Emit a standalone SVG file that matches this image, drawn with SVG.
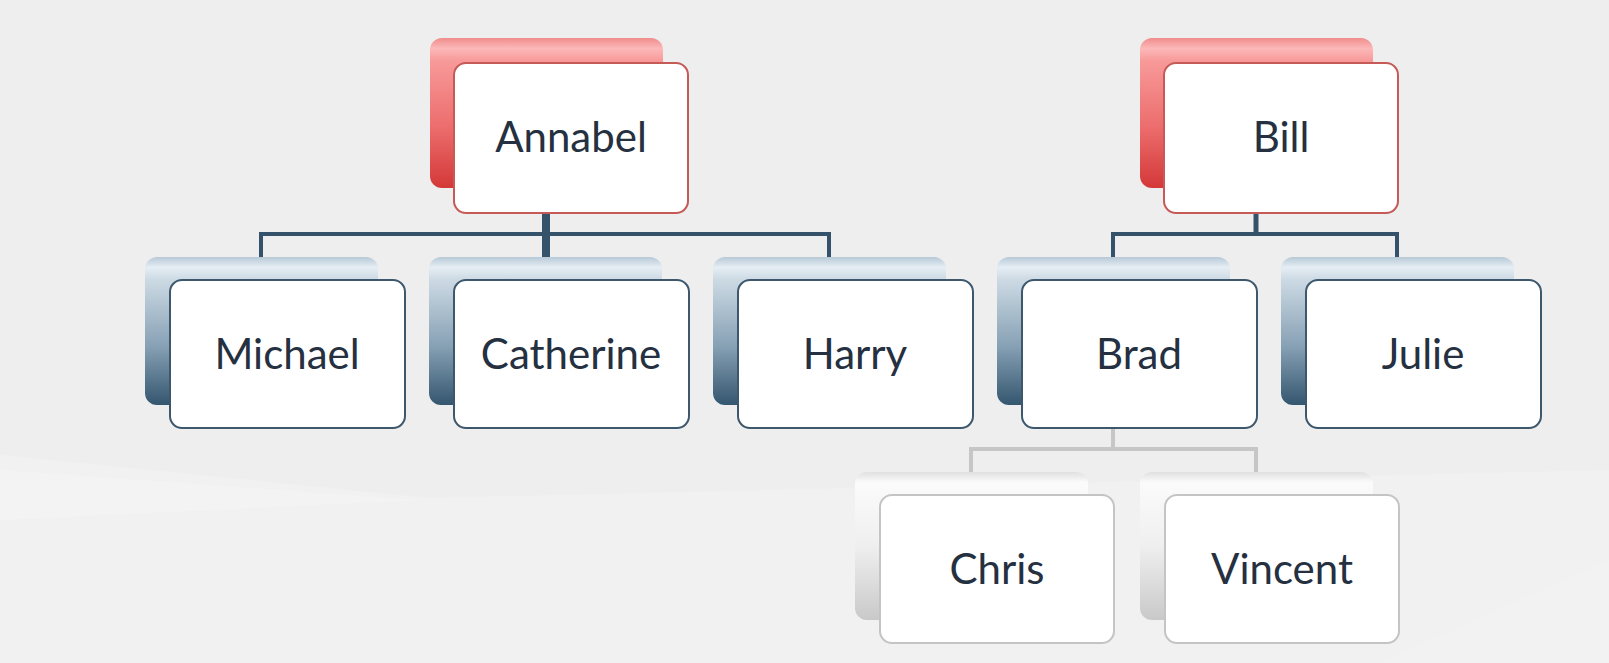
<svg xmlns="http://www.w3.org/2000/svg" width="1609" height="663" viewBox="0 0 1609 663">
<defs>
<linearGradient id="gRed" x1="0" y1="0" x2="0" y2="1">
<stop offset="0" stop-color="#f08c8c"/>
<stop offset="0.07" stop-color="#fcb8b8"/>
<stop offset="0.15" stop-color="#f89a9a"/>
<stop offset="0.6" stop-color="#ec6c6c"/>
<stop offset="1" stop-color="#d43838"/>
</linearGradient>
<linearGradient id="gBlue" x1="0" y1="0" x2="0" y2="1">
<stop offset="0" stop-color="#b7c9d7"/>
<stop offset="0.07" stop-color="#e6eef4"/>
<stop offset="0.15" stop-color="#cddae4"/>
<stop offset="0.6" stop-color="#87a1b5"/>
<stop offset="1" stop-color="#34566f"/>
</linearGradient>
<linearGradient id="gGray" x1="0" y1="0" x2="0" y2="1">
<stop offset="0" stop-color="#e0e0e0"/>
<stop offset="0.07" stop-color="#fbfbfb"/>
<stop offset="0.5" stop-color="#efefef"/>
<stop offset="1" stop-color="#c9c9c9"/>
</linearGradient>
</defs>
<style>
.back{stroke:none}
.r{fill:url(#gRed)}
.b{fill:url(#gBlue)}
.g{fill:url(#gGray)}
.front{fill:#ffffff;stroke-width:2}
.fr{stroke:#c55a57}
.fb{stroke:#3d586c}
.fg{stroke:#c4c4c4}
.lbl{font-family:Lato,"Open Sans","Liberation Sans",sans-serif;font-size:42px;fill:#253040;text-anchor:middle}
.c1{fill:none;stroke:#34526a;stroke-width:4}
.c2{fill:none;stroke:#c6c6c6;stroke-width:4}
</style>
<rect x="0" y="0" width="1609" height="663" fill="#eeeeee"/>
<polygon points="0,455 430,498 1609,470 1609,663 0,663" fill="#f1f1f1"/>
<polygon points="0,470 420,500 0,520" fill="#f3f3f3"/>
<polygon points="1380,663 1609,560 1609,663" fill="#f2f2f2"/>
<g id="connectors">
<path class="c1" d="M261,257 V234 H829 V257"/>
<path class="c1" d="M546,213 V257" style="stroke-width:8"/>
<path class="c1" d="M1113,257 V234 H1397 V257"/>
<path class="c1" d="M1256,213 V234" style="stroke-width:5"/>
<path class="c2" d="M1113,428 V449"/>
<path class="c2" d="M971,472 V449 H1256 V472"/>
</g>
<g id="node-annabel">
<rect class="back r" x="430" y="38" width="233" height="150" rx="12"/>
<rect class="front fr" x="454" y="63" width="234" height="150" rx="12"/>
<text class="lbl" x="571" y="152">Annabel</text>
</g>
<g id="node-bill">
<rect class="back r" x="1140" y="38" width="233" height="150" rx="12"/>
<rect class="front fr" x="1164" y="63" width="234" height="150" rx="12"/>
<text class="lbl" x="1281" y="152">Bill</text>
</g>
<g id="node-michael">
<rect class="back b" x="145" y="257" width="233" height="148" rx="12"/>
<rect class="front fb" x="170" y="280" width="235" height="148" rx="12"/>
<text class="lbl" x="287" y="369">Michael</text>
</g>
<g id="node-catherine">
<rect class="back b" x="429" y="257" width="233" height="148" rx="12"/>
<rect class="front fb" x="454" y="280" width="235" height="148" rx="12"/>
<text class="lbl" x="571" y="369">Catherine</text>
</g>
<g id="node-harry">
<rect class="back b" x="713" y="257" width="233" height="148" rx="12"/>
<rect class="front fb" x="738" y="280" width="235" height="148" rx="12"/>
<text class="lbl" x="855" y="369">Harry</text>
</g>
<g id="node-brad">
<rect class="back b" x="997" y="257" width="233" height="148" rx="12"/>
<rect class="front fb" x="1022" y="280" width="235" height="148" rx="12"/>
<text class="lbl" x="1139" y="369">Brad</text>
</g>
<g id="node-julie">
<rect class="back b" x="1281" y="257" width="233" height="148" rx="12"/>
<rect class="front fb" x="1306" y="280" width="235" height="148" rx="12"/>
<text class="lbl" x="1423" y="369">Julie</text>
</g>
<g id="node-chris">
<rect class="back g" x="855" y="472" width="233" height="148" rx="12"/>
<rect class="front fg" x="880" y="495" width="234" height="148" rx="12"/>
<text class="lbl" x="997" y="584">Chris</text>
</g>
<g id="node-vincent">
<rect class="back g" x="1140" y="472" width="233" height="148" rx="12"/>
<rect class="front fg" x="1165" y="495" width="234" height="148" rx="12"/>
<text class="lbl" x="1282" y="584">Vincent</text>
</g>
</svg>
